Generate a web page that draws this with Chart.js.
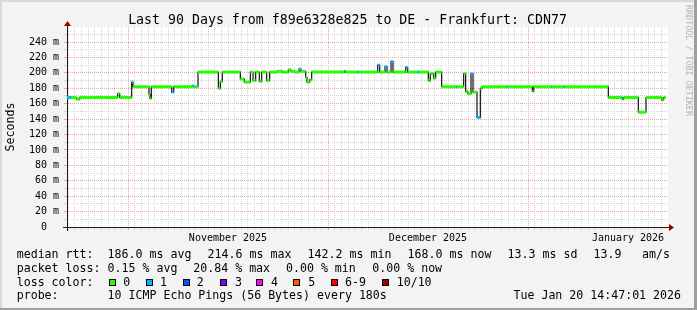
<!DOCTYPE html>
<html>
<head>
<meta charset="utf-8">
<script src="https://cdn.jsdelivr.net/npm/chart.js@4.4.1/dist/chart.umd.min.js"></script>
<style>
  html, body { margin: 0; padding: 0; background: #f3f3f3; }
  canvas { display: block; }
</style>
</head>
<body>
<canvas id="grafico" width="697" height="310"></canvas>
<script>
// --- DATOS ---
// day offset from graph start (step start), median rtt (ms), loss category
const stepDay = [0, 0.6, 1.4, 1.9, 7.6, 7.9, 9.7, 9.9, 12.3, 12.45, 12.65, 15.7, 16.0, 18.75, 19.0, 19.65,
  22.7, 23.0, 23.3, 26.0, 26.6, 27.5, 27.9, 28.3, 28.85, 29.2, 29.95, 30.4, 31.5, 32.3, 33.2, 33.6, 34.2,
  34.8, 35.1, 35.8, 36.0, 36.4, 36.7, 41.6, 41.8, 43.6, 43.8, 46.6, 46.9, 47.7, 48.0, 48.6, 48.9, 50.8,
  51.1, 52.6, 52.8, 54.2, 54.5, 55.0, 55.3, 56.2, 58.4, 58.6, 59.5, 59.8, 60.1, 60.6, 60.9, 61.5, 62.0,
  62.3, 65.9, 66.1, 69.8, 70.0, 72.6, 72.8, 74.5, 74.7, 81.2, 83.3, 83.5, 85.7, 86.85, 89.2, 89.5];
const stepRtt = [168, 168, 166, 168, 173, 168, 188, 182, 172, 167, 182, 175, 182, 183, 182, 201,
  180, 189, 201, 192, 188, 201, 190, 201, 189, 201, 190, 201, 202, 201, 204, 202, 201,
  205, 202, 194, 188, 191, 201, 202, 201, 201, 201, 210, 201, 208, 201, 214.6, 201, 207,
  201, 201, 201, 190, 199, 193, 201, 182, 182, 182, 199, 176, 173, 199, 175, 142.2, 180,
  182, 182, 182, 176, 182, 182, 182, 182, 182, 168, 166, 168, 149, 168, 165, 168];
const stepLoss = [1, 0, 0, 0, 0, 0, 1, 0, 0, 0, 0, 1, 0, 1, 0, 0,
  0, 0, 0, 0, 0, 0, 0, 0, 0, 0, 0, 0, 0, 0, 0, 0, 0,
  1, 0, 0, 0, 0, 0, 1, 0, 1, 0, 1, 0, 1, 0, 1, 0, 1,
  0, 1, 0, 0, 0, 0, 0, 0, 1, 0, 0, 0, 0, 1, 0, 1, 0,
  0, 1, 0, 0, 0, 1, 0, 1, 0, 0, 1, 0, 0, 0, 0, 0];
const endDay = 89.8;

const monthLabels = ["November 2025", "December 2025", "January 2026"];
const monthStartDay = [9.15, 39.15, 69.15];
const yLabelValues = [0, 20, 40, 60, 80, 100, 120, 140, 160, 180, 200, 220, 240];

const lossColors = ["#26ff00", "#00b8ff", "#0059ff", "#7e00ff", "#ff00ff", "#ff5500", "#ff0000", "#a10000"];
const lossNames = ["0", "1", "2", "3", "4", "5", "6-9", "10/10"];

const titulo = "Last 90 Days from f89e6328e825 to DE - Frankfurt: CDN77";
const rttStats = ["186.0 ms avg", "214.6 ms max", "142.2 ms min", "168.0 ms now", "13.3 ms sd", "13.9", "am/s"];
const lossStats = ["0.15 % avg", "20.84 % max", "0.00 % min", "0.00 % now"];
const probeText = "10 ICMP Echo Pings (56 Bytes) every 180s";
const fechaText = "Tue Jan 20 14:47:01 2026";

// --- ESTILO ---
const MONO = '"DejaVu Sans Mono", monospace';
const gridMinor = "#d6d6d6";
const gridMajor = "#f2a0a0";
const axisColor = "#1a1a1a";

// --- SERIES ---
const medianaPts = stepDay.map((d, i) => ({ x: d, y: stepRtt[i] }));
medianaPts.push({ x: endDay, y: stepRtt[stepRtt.length - 1] });

const tramos = [];
stepDay.forEach((d, i) => {
  const fin = i + 1 < stepDay.length ? stepDay[i + 1] : endDay;
  tramos.push({ x: d, y: stepRtt[i], loss: stepLoss[i] });
  tramos.push({ x: fin, y: stepRtt[i], loss: stepLoss[i] });
  tramos.push({ x: fin, y: null, loss: 0 });
});

// grid positions
const xGrid = [];
for (let k = -9; k <= 81; k++) {
  const v = +(monthStartDay[0] + k).toFixed(2);
  if (v >= 0 && v <= 90) xGrid.push(v);
}
const yGrid = [];
for (let v = 0; v <= 250; v += 10) yGrid.push(v);

const esMes = v => monthStartDay.some(m => Math.abs(m - v) < 0.01);
const etiquetaMes = v => {
  const i = monthStartDay.findIndex(m => Math.abs(m + 15 - v) < 0.01);
  return i >= 0 ? monthLabels[i] : "";
};

// --- DECORACION ---
const decoracion = {
  id: "decoracion",
  beforeDraw(chart) {
    const { ctx, chartArea: a } = chart;
    ctx.save();
    ctx.fillStyle = "#f3f3f3";
    ctx.fillRect(0, 0, 697, 310);
    ctx.fillStyle = "#ffffff";
    ctx.fillRect(a.left, a.top, a.right - a.left + 1, a.bottom - a.top);
    ctx.restore();
  },
  afterDraw(chart) {
    const { ctx, chartArea: a } = chart;
    ctx.save();
    // frame
    ctx.fillStyle = "#d8d8d8";
    ctx.fillRect(0, 0, 697, 2);
    ctx.fillRect(0, 0, 2, 310);
    ctx.fillStyle = "#9e9e9e";
    ctx.fillRect(0, 308, 697, 2);
    ctx.fillRect(694, 0, 3, 310);

    // axis extensions + arrows
    ctx.strokeStyle = axisColor;
    ctx.lineWidth = 1;
    ctx.beginPath();
    ctx.moveTo(a.left + 0.5, a.top);
    ctx.lineTo(a.left + 0.5, a.top - 3);
    ctx.moveTo(a.left + 0.5, a.bottom);
    ctx.lineTo(a.left + 0.5, a.bottom + 4);
    ctx.moveTo(a.left - 4, a.bottom + 0.5);
    ctx.lineTo(a.left, a.bottom + 0.5);
    ctx.moveTo(a.right, a.bottom + 0.5);
    ctx.lineTo(a.right + 3, a.bottom + 0.5);
    ctx.stroke();
    ctx.fillStyle = "#a00000";
    ctx.beginPath();
    ctx.moveTo(a.left + 0.5, a.top - 6);
    ctx.lineTo(a.left + 4, a.top - 1);
    ctx.lineTo(a.left - 3, a.top - 1);
    ctx.closePath();
    ctx.fill();
    ctx.beginPath();
    ctx.moveTo(a.right + 7, a.bottom + 0.5);
    ctx.lineTo(a.right + 2, a.bottom - 3);
    ctx.lineTo(a.right + 2, a.bottom + 4);
    ctx.closePath();
    ctx.fill();

    // title
    ctx.fillStyle = "#000";
    ctx.font = `13.25px ${MONO}`;
    ctx.textAlign = "center";
    ctx.textBaseline = "alphabetic";
    ctx.fillText(titulo, 347.5, 24);

    // y title
    ctx.save();
    ctx.translate(10.5, 127);
    ctx.rotate(-Math.PI / 2);
    ctx.font = `11.6px ${MONO}`;
    ctx.textBaseline = "middle";
    ctx.fillText("Seconds", 0, 0);
    ctx.restore();

    // watermark
    ctx.save();
    ctx.translate(688, 5);
    ctx.rotate(Math.PI / 2);
    ctx.font = `8.4px ${MONO}`;
    ctx.fillStyle = "#b4b4b4";
    ctx.textAlign = "left";
    ctx.textBaseline = "middle";
    ctx.fillText("RRDTOOL / TOBI OETIKER", 0, 0);
    ctx.restore();

    // legend rows
    ctx.font = `11.6px ${MONO}`;
    ctx.fillStyle = "#000";
    ctx.textAlign = "left";
    ctx.textBaseline = "middle";
    const r1 = 255, r2 = 268.5, r3 = 282.5, r4 = 296;
    ctx.fillText("median rtt:", 16.7, r1);
    const rttX = [107.6, 207.6, 307.6, 407.6, 507.6, 593.6, 642];
    rttStats.forEach((t, i) => ctx.fillText(t, rttX[i], r1));
    ctx.fillText("packet loss:", 16.7, r2);
    const lossX = [107.6, 193.3, 286, 372.3];
    lossStats.forEach((t, i) => ctx.fillText(t, lossX[i], r2));
    ctx.fillText("loss color:", 16.7, r3);
    const boxX = [109, 146, 183, 220, 256, 293, 331, 382];
    const nameX = [123.3, 160, 196.7, 235, 271, 308.3, 345, 396.7];
    lossNames.forEach((n, i) => {
      ctx.fillStyle = lossColors[i];
      ctx.fillRect(boxX[i], 279, 7, 7);
      ctx.strokeStyle = "#000";
      ctx.strokeRect(boxX[i] + 0.5, 279.5, 6, 6);
      ctx.fillStyle = "#000";
      ctx.fillText(n, nameX[i], r3);
    });
    ctx.fillText("probe:", 16.7, r4);
    ctx.fillText(probeText, 107.6, r4);
    ctx.textAlign = "right";
    ctx.fillText(fechaText, 681, r4);
    ctx.restore();
  }
};

// --- GRAFICO ---
const chart = new Chart(document.getElementById("grafico"), {
  type: "line",
  data: {
    datasets: [
      {
        label: "median",
        data: tramos,
        order: 1,
        borderWidth: 3,
        borderColor: lossColors[0],
        pointRadius: 0,
        spanGaps: false,
        segment: {
          borderColor: c => lossColors[tramos[c.p0DataIndex].loss]
        }
      },
      {
        label: "step",
        data: medianaPts,
        order: 2,
        stepped: true,
        borderWidth: 1.2,
        borderColor: "#111",
        pointRadius: 0
      }
    ]
  },
  options: {
    responsive: false,
    animation: false,
    devicePixelRatio: 1,
    layout: { padding: { top: 27, right: 30, bottom: 0, left: 0 } },
    plugins: { legend: { display: false }, tooltip: { enabled: false } },
    scales: {
      x: {
        type: "linear",
        min: 0,
        max: 90,
        afterBuildTicks: s => { s.ticks = xGrid.map(v => ({ value: v })); },
        afterFit: s => { s.height = 83; },
        grid: {
          color: c => (esMes(c.tick.value) ? gridMajor : gridMinor),
          lineWidth: 1,
          drawTicks: true,
          tickLength: 3
        },
        border: { display: true, color: axisColor, width: 1, dash: [1, 1] },
        ticks: {
          autoSkip: false,
          maxRotation: 0,
          padding: 2,
          color: "#000",
          font: { family: "DejaVu Sans Mono", size: 10 },
          callback: v => etiquetaMes(v)
        }
      },
      y: {
        min: 0,
        max: 259.5,
        afterBuildTicks: s => { s.ticks = yGrid.map(v => ({ value: v })); },
        afterFit: s => { s.width = 67; },
        grid: {
          color: c => (yLabelValues.includes(c.tick.value) ? gridMajor : gridMinor),
          lineWidth: 1,
          drawTicks: true,
          tickLength: 3
        },
        border: { display: true, color: axisColor, width: 1, dash: [1, 1] },
        ticks: {
          autoSkip: false,
          padding: 5,
          color: "#000",
          font: { family: "DejaVu Sans Mono", size: 10 },
          callback: v => (yLabelValues.includes(v) ? (v === 0 ? "0  " : v + " m") : "")
        }
      }
    }
  },
  plugins: [decoracion]
});
</script>
</body>
</html>
